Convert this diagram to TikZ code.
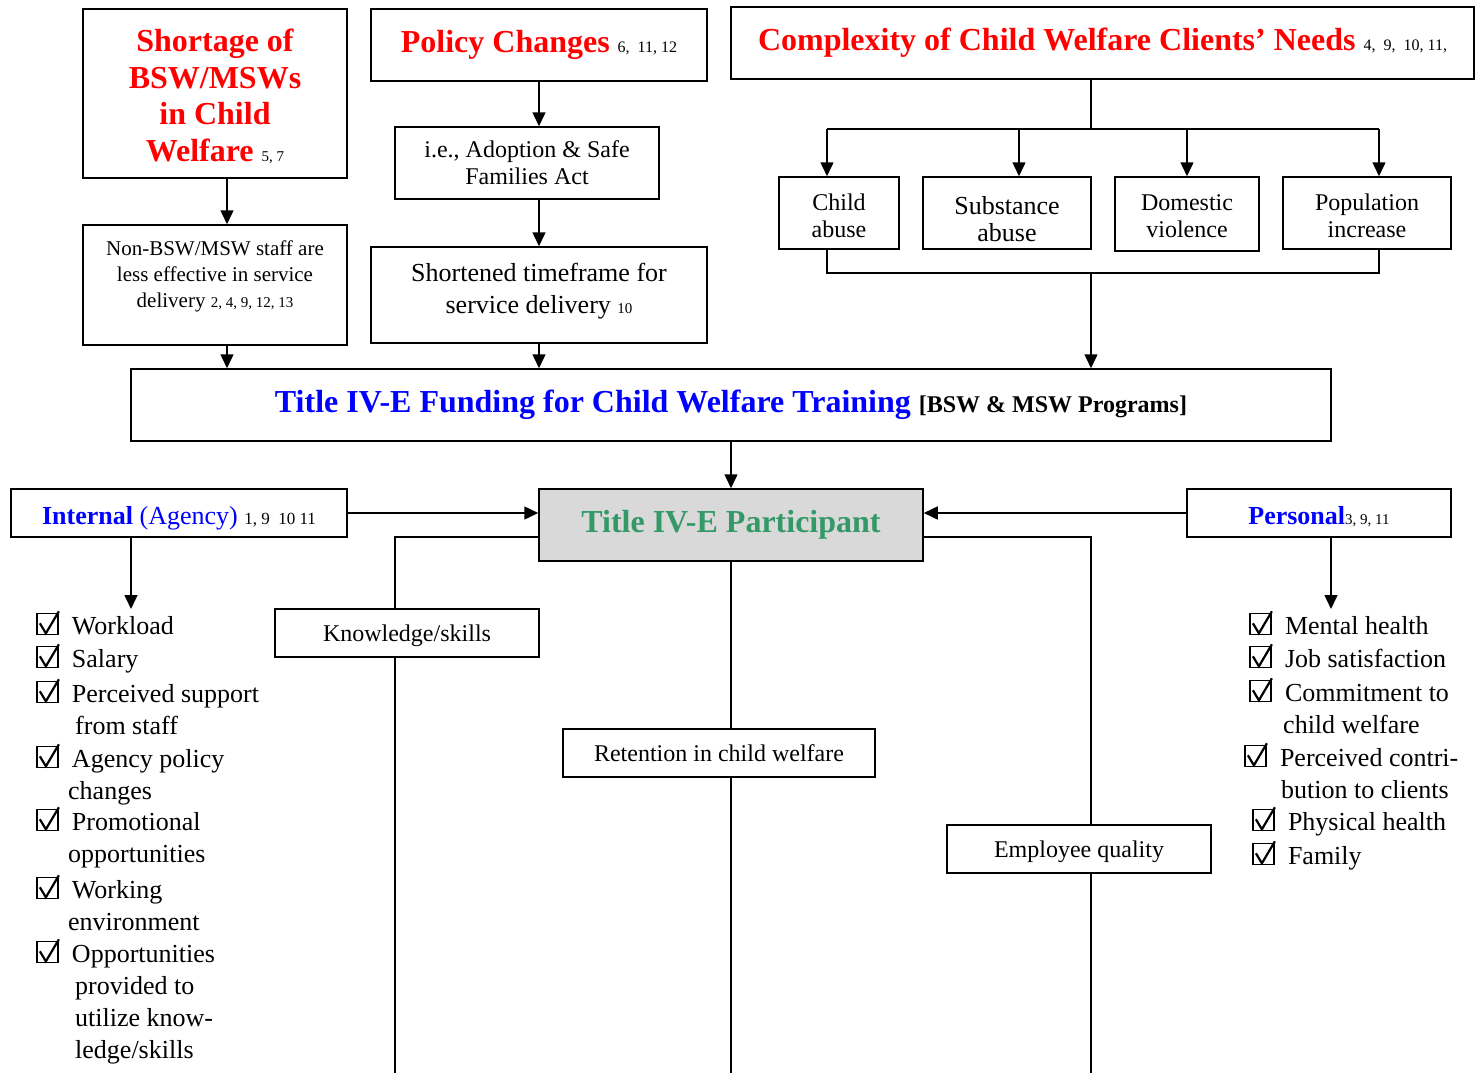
\documentclass[tikz,border=0pt]{standalone}
\usepackage{fontspec}
\setmainfont{Liberation Serif}
\usetikzlibrary{arrows.meta, positioning}
\definecolor{cwred}{HTML}{FF0000}
\definecolor{cwblue}{HTML}{0000FF}
\definecolor{cwgreen}{HTML}{339966}
\definecolor{cwgray}{HTML}{D9D9D9}
\newcommand{\refnums}[2][15]{{\fontsize{#1}{#1}\selectfont\mdseries\color{black}#2}}
% check box drawn as a small picture
\newcommand{\chk}{\tikz[x=1pt, y=1pt, baseline=0pt]{%
  \draw[line width=1.4pt] (0,0) rectangle (21,21);
  \draw[line width=2.2pt] (3,11) -- (9,1) -- (22,23);}\hspace{12pt}}
\newcommand{\fs}[2]{\fontsize{#1}{#2}\selectfont}
\tikzset{
  box/.style={rectangle, draw=black, line width=1.5pt, fill=white, align=center, inner sep=2pt},
  redhead/.style={box, text=cwred, font=\bfseries},
  flow/.style={-{Triangle[length=14pt, width=13pt]}, line width=1.5pt},
  link/.style={line width=1.5pt},
  item/.style={anchor=north west, align=left, inner sep=0pt, font=\fs{26}{32}}
}
\begin{document}
\begin{tikzpicture}[x=1pt, y=-1pt]
  \useasboundingbox[fill=white] (0,0) rectangle (1481,1073);

  % top row
  \node[redhead, minimum width=264pt, minimum height=169pt, font=\bfseries\fs{32}{36.5}] (shortage) at (215,93.5)
    {\mbox{}\\[-8pt]Shortage of\\BSW/MSWs\\in Child\\Welfare \refnums{5, 7}};
  \node[redhead, minimum width=336pt, minimum height=72pt, font=\bfseries\fs{32}{36}] (policy) at (539,45)
    {Policy Changes \refnums[16]{6,\ \ 11, 12}};
  \node[redhead, minimum width=743pt, minimum height=72pt, font=\bfseries\fs{32}{36}] (complexity) at (1102.5,43)
    {Complexity of Child Welfare Clients’ Needs \refnums[16]{4,\ \ 9,\ \ 10,\ 11,}};

  \node[box, minimum width=264pt, minimum height=120pt, font=\fs{21}{26}] (nonbsw) at (215,285)
    {Non-BSW/MSW staff are\\less effective in service\\delivery \refnums{2, 4,\ 9, 12, 13}\\[-4pt]\mbox{}};
  \node[box, minimum width=264pt, minimum height=72pt, font=\fs{24}{27}] (asfa) at (527,163)
    {i.e., Adoption \& Safe\\Families Act};
  \node[box, minimum width=336pt, minimum height=96pt, font=\fs{26}{32}] (shortened) at (539,295)
    {Shortened timeframe for\\service delivery \refnums{10}\\[-18pt]\mbox{}};

  \node[box, minimum width=120pt, minimum height=72pt, font=\fs{24}{27}] (childab) at (839,213) {\mbox{}\\[-4.5pt]Child\\abuse};
  \node[box, minimum width=168pt, minimum height=72pt, font=\fs{26}{27}] (subab) at (1007,213) {\mbox{}\\[3pt]Substance\\abuse};
  \node[box, minimum width=144pt, minimum height=74pt, font=\fs{24}{27}] (domviol) at (1187,214) {\mbox{}\\[-6pt]Domestic\\violence};
  \node[box, minimum width=168pt, minimum height=72pt, font=\fs{24}{27}] (popinc) at (1367,213) {\mbox{}\\[-4.5pt]Population\\increase};

  \node[box, minimum width=1200pt, minimum height=72pt, font=\bfseries\fs{32}{36}] (funding) at (731,405)
    {\textcolor{cwblue}{Title IV-E Funding for Child Welfare Training} {\fs{24}{26}[BSW \& MSW Programs]}};

  % middle row
  \node[box, minimum width=336pt, minimum height=48pt, font=\fs{26}{28}, text height=22pt, text depth=0pt] (internal) at (179,513)
    {\textcolor{cwblue}{\textbf{Internal} (Agency)} \refnums[17]{1,\ 9\ \ 10 11}};
  \node[box, fill=cwgray, minimum width=384pt, minimum height=72pt, text=cwgreen, font=\bfseries\fs{32}{36}] (participant) at (731,525)
    {Title IV-E Participant};
  \node[box, minimum width=264pt, minimum height=48pt, font=\fs{26}{28}, text height=22pt, text depth=0pt] (personal) at (1319,513)
    {\textcolor{cwblue}{\textbf{Personal}}\refnums{3, 9, 11}};

  \node[box, minimum width=264pt, minimum height=48pt, font=\fs{24}{26}, text height=19pt, text depth=2pt] (knowledge) at (407,633) {Knowledge/skills};
  \node[box, minimum width=312pt, minimum height=48pt, font=\fs{24}{26}] (retention) at (719,753) {Retention in child welfare};
  \node[box, minimum width=264pt, minimum height=48pt, font=\fs{24}{26}, text height=19pt, text depth=2pt] (quality) at (1079,849) {Employee quality};

  % checklists
  \node[item] (workload) at (36,610) {\chk Workload};
  \node[item] (salary) at (36,643) {\chk Salary};
  \node[item] (support) at (36,678) {\chk Perceived support\\\hspace*{39pt}from staff};
  \node[item] (agpolicy) at (36,743) {\chk Agency policy\\\hspace*{32pt}changes};
  \node[item] (promo) at (36,806) {\chk Promotional\\\hspace*{32pt}opportunities};
  \node[item] (workenv) at (36,874) {\chk Working\\\hspace*{32pt}environment};
  \node[item] (utilize) at (36,938) {\chk Opportunities\\\hspace*{39pt}provided to\\\hspace*{39pt}utilize know-\\\hspace*{39pt}ledge/skills};

  \node[item] (mental) at (1249,610) {\chk Mental health};
  \node[item] (jobsat) at (1249,643) {\chk Job satisfaction};
  \node[item] (commit) at (1249,677) {\chk Commitment to\\\hspace*{34pt}child welfare};
  \node[item] (contrib) at (1244,742) {\chk Perceived contri-\\\hspace*{37pt}bution to clients};
  \node[item] (physical) at (1252,806) {\chk Physical health};
  \node[item] (family) at (1252,840) {\chk Family};

  % free ends
  \coordinate (split) at (1091,129);
  \coordinate (busL) at (827,129);
  \coordinate (busR) at (1379,129);
  \coordinate (joinL) at (827,273);
  \coordinate (joinR) at (1379,273);
  \coordinate (intend) at (131,609);
  \coordinate (perend) at (1331,609);
  \coordinate (kbot) at (395,1073);
  \coordinate (rbot) at (731,1073);
  \coordinate (ebot) at (1091,1073);

  % connectors
  \draw[flow] ([xshift=12pt]shortage.south) -- ([xshift=12pt]nonbsw.north);
  \draw[flow] ([xshift=12pt]nonbsw.south) -- ([xshift=12pt]nonbsw.south |- funding.north);
  \draw[flow] (policy.south) -- (policy.south |- asfa.north);
  \draw[flow] (policy.south |- asfa.south) -- (shortened.north);
  \draw[flow] (shortened.south) -- (shortened.south |- funding.north);

  \draw[link] (complexity.south -| split) -- (split);
  \draw[link] (busL) -- (busR);
  \draw[flow] (busL) -- (busL |- childab.north);
  \draw[flow] ([xshift=12pt]subab.north |- busL) -- ([xshift=12pt]subab.north);
  \draw[flow] (domviol.north |- busL) -- (domviol.north);
  \draw[flow] (busR) -- (busR |- popinc.north);
  \draw[link] (joinL |- childab.south) -- (joinL) -- (joinR) -- (joinR |- popinc.south);
  \draw[flow] (split |- joinL) -- (split |- funding.north);

  \draw[flow] (funding.south) -- (participant.north);
  \draw[flow] (internal.east) -- (internal.east -| participant.west);
  \draw[flow] (personal.west) -- (personal.west -| participant.east);
  \draw[flow] (intend |- internal.south) -- (intend);
  \draw[flow] (perend |- personal.south) -- (perend);

  \draw[link] ([yshift=-12pt]participant.west) -| ([xshift=-12pt]knowledge.north);
  \draw[link] ([xshift=-12pt]knowledge.south) -- (kbot);
  \draw[link] (participant.south) -- (participant.south |- retention.north);
  \draw[link] (rbot |- retention.south) -- (rbot);
  \draw[link] ([yshift=-12pt]participant.east) -| ([xshift=12pt]quality.north);
  \draw[link] ([xshift=12pt]quality.south) -- (ebot);
\end{tikzpicture}
\end{document}
